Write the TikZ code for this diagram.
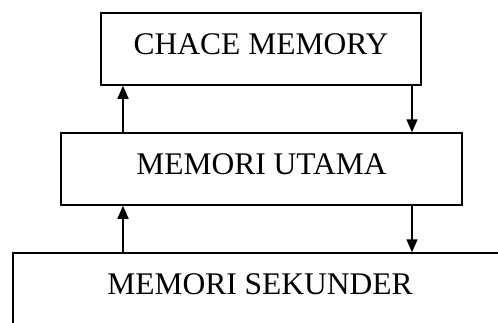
\documentclass[tikz,border=0pt]{standalone}
\usepackage{fontspec}
\setmainfont{Liberation Serif}
\usetikzlibrary{arrows.meta}
\begin{document}
\begin{tikzpicture}[x=1pt,y=-1pt,
  memobox/.style={draw=black,line width=1.5pt,fill=white,inner sep=0pt,
    minimum height=72pt,text depth=10pt,
    font=\fontsize{31.5}{36}\selectfont},
  arr/.style={draw=black,line width=1.5pt,-{Triangle[length=13pt,width=11pt]}}]
\clip (0,0) rectangle (498,322);
\fill[white] (0,0) rectangle (498,322);
\node[memobox,minimum width=320pt] (cache) at (261,49) {CHACE MEMORY};
\node[memobox,minimum width=401pt] (utama) at (261.5,169) {MEMORI UTAMA};
\node[memobox,minimum width=494pt] (sek) at (260,289) {MEMORI SEKUNDER};
\coordinate (L) at (123,0);
\coordinate (R) at (412,0);
\draw[arr] (utama.north -| L) -- (cache.south -| L);
\draw[arr] (cache.south -| R) -- (utama.north -| R);
\draw[arr] (sek.north -| L) -- (utama.south -| L);
\draw[arr] (utama.south -| R) -- (sek.north -| R);
\end{tikzpicture}
\end{document}
